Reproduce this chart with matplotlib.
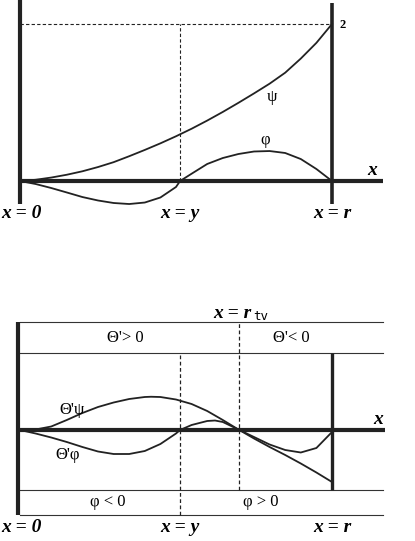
import matplotlib
matplotlib.use("Agg")
import matplotlib.pyplot as plt

# positions along the x axis (r = 1)
X_Y = 0.513
X_R = 1.0
X_TV = 0.702

# sample positions
xs = [0.0, 0.05, 0.1, 0.15, 0.2, 0.25, 0.3, 0.35, 0.4, 0.45, 0.5,
      0.55, 0.6, 0.65, 0.7, 0.75, 0.8, 0.85, 0.9, 0.95, 1.0]

# top panel: psi and phi
psi_y = [0.0, 0.016, 0.044, 0.08, 0.124, 0.178, 0.24, 0.316, 0.396, 0.48, 0.57,
         0.666, 0.77, 0.88, 0.996, 1.116, 1.24, 1.38, 1.56, 1.76, 2.0]

phi_x = [0.0, 0.05, 0.1, 0.15, 0.2, 0.25, 0.3, 0.35, 0.4, 0.45, 0.5, 0.513,
         0.55, 0.6, 0.65, 0.7, 0.75, 0.8, 0.85, 0.9, 0.95, 1.0]
phi_y = [0.0, -0.038, -0.089, -0.146, -0.204, -0.248, -0.28, -0.293, -0.274,
         -0.21, -0.076, 0.0, 0.093, 0.217, 0.293, 0.344, 0.376, 0.382, 0.357,
         0.28, 0.153, 0.0]

# bottom panel: Theta' psi and Theta' phi
tpsi_x = [0.0, 0.05, 0.1, 0.15, 0.2, 0.25, 0.3, 0.35, 0.4, 0.42, 0.45, 0.5,
          0.55, 0.6, 0.65, 0.7, 0.75, 0.8, 0.85, 0.9, 0.95, 1.0]
tpsi_y = [0.0, 0.02, 0.14, 0.4, 0.68, 0.92, 1.1, 1.24, 1.32, 1.33, 1.32, 1.22,
          1.04, 0.76, 0.4, 0.02, -0.34, -0.68, -1.0, -1.34, -1.7, -2.08]

tphi_x = [0.0, 0.05, 0.1, 0.15, 0.2, 0.25, 0.3, 0.35, 0.4, 0.45, 0.5, 0.513,
          0.55, 0.6, 0.625, 0.65, 0.7, 0.75, 0.8, 0.85, 0.9, 0.95, 1.0]
tphi_y = [0.0, -0.14, -0.3, -0.48, -0.68, -0.86, -0.96, -0.96, -0.84, -0.56,
          -0.14, 0.0, 0.2, 0.36, 0.38, 0.32, 0.02, -0.28, -0.58, -0.8, -0.9,
          -0.72, -0.08]

# band borders in the bottom panel
band_top = 4.32
band_mid = 3.08
band_low = -2.4
band_bot = -3.4

SERIF = ["Liberation Serif", "DejaVu Serif"]
lab = dict(family=SERIF, fontsize=14, fontweight="bold", fontstyle="italic",
           ha="center", va="center")
greek = dict(family=SERIF, fontsize=12, ha="center", va="center")
INK = "#222222"

fig = plt.figure(figsize=(4.15, 5.41), dpi=100)
xlim = (-20 / 312, 395 / 312)

# ---- top panel
ax = fig.add_axes([0, 1 - 230 / 541, 1, 230 / 541])
ax.set_xlim(*xlim)
ax.set_ylim(-0.624, 2.306)
ax.axis("off")

ax.plot([0, 0], [-0.293, 2.306], color=INK, lw=3.0, solid_capstyle="butt")
ax.plot([X_R, X_R], [-0.293, 2.27], color=INK, lw=2.6, solid_capstyle="butt")
ax.plot([0, 1.163], [0, 0], color=INK, lw=3.0, solid_capstyle="butt")
ax.plot([0, X_R], [2, 2], color=INK, lw=0.8, ls=(0, (3, 2)))
ax.plot([X_Y, X_Y], [0, 2], color=INK, lw=0.8, ls=(0, (3, 2)))
ax.plot(xs, psi_y, color=INK, lw=1.3)
ax.plot(phi_x, phi_y, color=INK, lw=1.3)

ax.text(1.025, 1.99, "2", family=SERIF, fontsize=9, fontweight="bold",
        ha="left", va="center")
ax.text(0.808, 1.07, "ψ", **greek)
ax.text(0.785, 0.52, "φ", **greek)
ax.text(1.128, 0.14, "x", **lab)
ax.text(0.005, -0.42, "x = 0", **lab)
ax.text(X_Y, -0.42, "x = y", **lab)
ax.text(X_R, -0.42, "x = r", **lab)

# ---- bottom panel
bx = fig.add_axes([0, 0, 1, 251 / 541])
bx.set_xlim(*xlim)
bx.set_ylim(-4.44, 5.6)
bx.axis("off")

for yb in [band_top, band_mid, band_low, band_bot]:
    bx.plot([0, 1.163], [yb, yb], color="#333333", lw=0.8)
bx.plot([-0.005, -0.005], [band_bot, band_top], color=INK, lw=3.0,
        solid_capstyle="butt")
bx.plot([X_R, X_R], [band_low, band_mid], color=INK, lw=2.4,
        solid_capstyle="butt")
bx.plot([0, 1.17], [0, 0], color=INK, lw=3.0, solid_capstyle="butt")
bx.plot([X_Y, X_Y], [band_bot, band_mid], color=INK, lw=0.9, ls=(0, (3, 2)))
bx.plot([X_TV, X_TV], [band_low, band_top], color=INK, lw=0.9, ls=(0, (3, 2)))
bx.plot(tpsi_x, tpsi_y, color=INK, lw=1.3)
bx.plot(tphi_x, tphi_y, color=INK, lw=1.3)

bx.text(0.167, 0.8, "Θ'ψ", **greek)
bx.text(0.154, -1.0, "Θ'φ", **greek)
bx.text(0.337, 3.68, "Θ'> 0", **greek)
bx.text(0.87, 3.68, "Θ'< 0", **greek)
bx.text(0.282, -2.88, "φ < 0", **greek)
bx.text(0.772, -2.88, "φ > 0", **greek)
bx.text(1.147, 0.4, "x", **lab)
bx.text(X_TV + 0.04, 4.68, "x = r", family=SERIF, fontsize=14,
        fontweight="bold", fontstyle="italic", ha="right", va="center")
bx.text(X_TV + 0.045, 4.55, "tv", family=["DejaVu Sans Mono"], fontsize=9,
        ha="left", va="center")
bx.text(0.005, -3.88, "x = 0", **lab)
bx.text(X_Y, -3.88, "x = y", **lab)
bx.text(X_R, -3.88, "x = r", **lab)

fig.savefig("out.png", dpi=100)
